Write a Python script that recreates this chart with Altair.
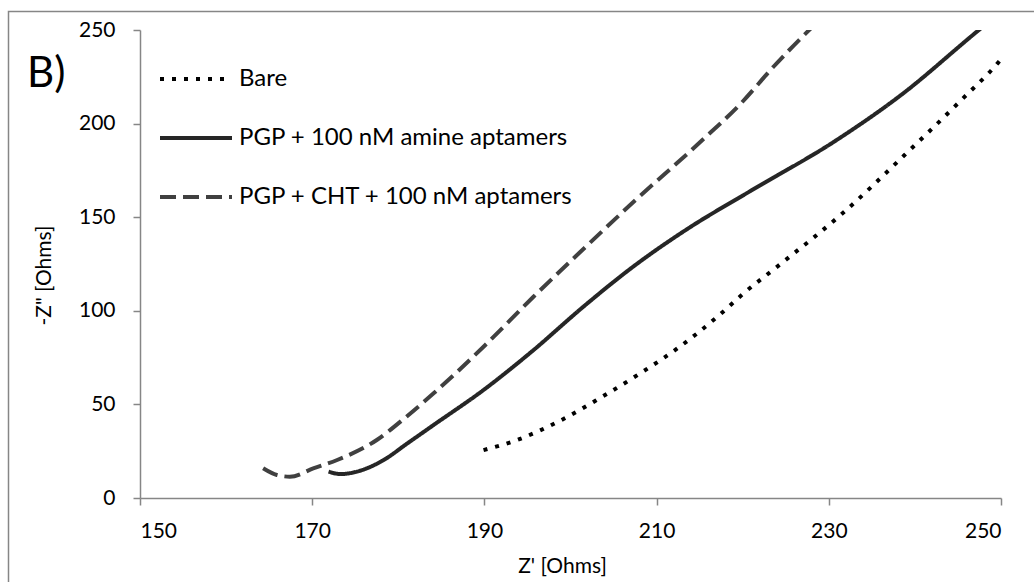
import altair as alt
import pandas as pd

# Nyquist curves: Z' (real) vs -Z'' (imaginary), in Ohms
bare_x = [189.9, 193.8, 198.8, 203.5, 208.1, 212.8, 217.1, 220.2, 224.4, 231.8, 238.8, 245.7, 249.6, 250.2]
bare_y = [25.6, 31.0, 41.3, 53.6, 66.6, 81.2, 97.0, 109.7, 125.0, 152.9, 183.2, 214.0, 232.2, 235.5]

amine_x = [171.9, 173.3, 175.2, 178.3, 181.0, 184.1, 189.9, 195.7, 201.5, 207.4, 213.5, 220.9, 230.6, 238.4, 247.3, 248.5]
amine_y = [14.1, 12.8, 14.1, 20.3, 29.0, 39.0, 57.7, 79.0, 102.2, 124.0, 143.5, 164.0, 190.3, 215.3, 249.5, 254.0]

cht_x = [164.3, 165.9, 167.4, 170.2, 172.9, 177.5, 180.7, 184.1, 189.9, 195.7, 201.5, 207.4, 215.1, 219.8, 223.6, 227.5, 228.5]
cht_y = [15.9, 12.3, 11.4, 15.9, 20.3, 31.0, 42.5, 55.9, 80.8, 107.5, 133.0, 158.5, 190.3, 210.8, 230.5, 249.0, 253.5]

series_names = ["Bare", "PGP + 100 nM amine aptamers", "PGP + CHT + 100 nM aptamers"]
series_colors = ["#000000", "#262626", "#404040"]
series_dashes = [[4, 8], [1, 0], [16, 7]]

x_ticks = [150, 170, 190, 210, 230, 250]
y_ticks = [0, 50, 100, 150, 200, 250]

rows = []
for name, xs, ys in zip(series_names, [bare_x, amine_x, cht_x], [bare_y, amine_y, cht_y]):
    for i, (xv, yv) in enumerate(zip(xs, ys)):
        rows.append({"series": name, "order": i, "zr": xv, "zi": yv})
df = pd.DataFrame(rows)

FONT = "Lato"
AXIS_GREY = "#868686"

lines = alt.Chart(df).mark_line(
    strokeWidth=4, clip=True, strokeCap="butt", interpolate="monotone"
).encode(
    x=alt.X("zr:Q", scale=alt.Scale(domain=[150, 250], nice=False, zero=False),
            axis=alt.Axis(values=x_ticks, title="Z' [Ohms]", grid=False, tickSize=7,
                          labelPadding=15, titlePadding=14, titleX=422)),
    y=alt.Y("zi:Q", scale=alt.Scale(domain=[0, 250], nice=False),
            axis=alt.Axis(values=y_ticks, title='-Z" [Ohms]', grid=False, tickSize=7,
                          labelPadding=18, titlePadding=24, titleY=245)),
    color=alt.Color("series:N", sort=series_names,
                    scale=alt.Scale(domain=series_names, range=series_colors),
                    legend=alt.Legend(title=None, orient="none", legendX=18, legendY=11,
                                      symbolType="stroke", symbolSize=5184,
                                      symbolStrokeWidth=4, rowPadding=9,
                                      labelFontSize=24, labelFont=FONT, labelColor="#000000",
                                      labelOffset=5, labelLimit=0, padding=0)),
    strokeDash=alt.StrokeDash("series:N", sort=series_names,
                              scale=alt.Scale(domain=series_names, range=series_dashes),
                              legend=None),
    order="order:Q",
)

# outer frame around the figure
frame = alt.Chart(pd.DataFrame({"a": [0]})).mark_rect(
    fillOpacity=0, stroke=AXIS_GREY, strokeWidth=1.5, clip=False
).encode(x=alt.value(-131.5), x2=alt.value(950), y=alt.value(-18.5), y2=alt.value(600))

panel = alt.Chart(pd.DataFrame({"t": ["B)"]})).mark_text(
    font=FONT, fontSize=42, align="left", baseline="alphabetic", color="#000000"
).encode(text="t:N", x=alt.value(-113), y=alt.value(57))

chart = alt.layer(frame, lines, panel).properties(
    width=861, height=468,
    autosize="none",
    padding={"left": 140, "top": 30, "right": 33, "bottom": 84},
).configure_view(stroke=None).configure_axis(
    domainColor=AXIS_GREY, tickColor=AXIS_GREY, domainWidth=1.5, tickWidth=1.5,
    labelFont=FONT, labelFontSize=21, labelColor="#000000",
    titleFont=FONT, titleFontSize=21, titleFontWeight="normal", titleColor="#000000",
)

chart.save("out.html", embed_options={"renderer": "svg", "actions": False})
